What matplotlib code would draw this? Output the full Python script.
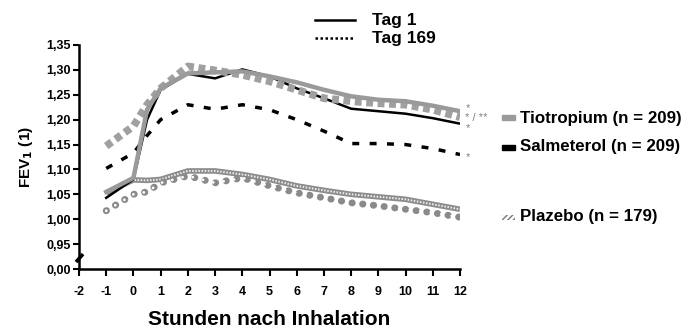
import numpy as np
import matplotlib
matplotlib.use("Agg")
import matplotlib.pyplot as plt
from matplotlib.patches import Rectangle
from matplotlib.lines import Line2D

plt.rcParams['font.family'] = ['Liberation Sans', 'DejaVu Sans']
plt.rcParams['font.weight'] = 'bold'

# data
hours = [-1, 0, 0.5, 1, 2, 3, 4, 5, 6, 7, 8, 9, 10, 11, 12]
tio_tag1 = [1.055, 1.083, 1.22, 1.263, 1.293, 1.295, 1.297, 1.287, 1.275, 1.26, 1.247, 1.24, 1.237, 1.228, 1.217]
salm_tag1 = [1.043, 1.08, 1.20, 1.26, 1.292, 1.283, 1.301, 1.287, 1.263, 1.243, 1.222, 1.217, 1.212, 1.203, 1.192]
tio_tag169 = [1.147, 1.187, 1.23, 1.263, 1.307, 1.299, 1.29, 1.277, 1.26, 1.243, 1.237, 1.233, 1.23, 1.22, 1.205]
salm_tag169 = [1.102, 1.133, 1.168, 1.20, 1.23, 1.221, 1.23, 1.22, 1.20, 1.177, 1.152, 1.152, 1.15, 1.142, 1.13]
plac_tag1 = [1.053, 1.079, 1.078, 1.08, 1.097, 1.097, 1.09, 1.08, 1.067, 1.058, 1.05, 1.045, 1.04, 1.03, 1.02]
plac_tag169 = [1.017, 1.05, 1.055, 1.073, 1.087, 1.073, 1.083, 1.067, 1.053, 1.043, 1.033, 1.027, 1.02, 1.013, 1.004]

x_ticks = list(range(-2, 13))
x_labels = [str(v) for v in x_ticks]
y_ticks = [0.90, 0.95, 1.00, 1.05, 1.10, 1.15, 1.20, 1.25, 1.30, 1.35]
y_labels = ['0,00', '0,95', '1,00', '1,05', '1,10', '1,15', '1,20', '1,25', '1,30', '1,35']

# significance marks at the line ends (stacked block + single mark)
star_block = '*\n* / **\n*'
star_block_y = 1.203
star_single = '*'
star_single_y = 1.124

groups = ['Tiotropium (n = 209)', 'Salmeterol (n = 209)', 'Plazebo (n = 179)']

grey = '#9a9a9a'

fig = plt.figure(figsize=(6.91, 3.36), dpi=100)
ax = fig.add_axes([79/691, 1-269/336, (460-79)/691, (269-45)/336])

# placebo lines (patterned look)
ax.plot(hours, plac_tag1, color='#8c8c8c', lw=4, solid_capstyle='butt')
ax.plot(hours, plac_tag1, color='#eeeeee', lw=1.4, linestyle=(0, (0.8, 0.8)))
ax.plot(hours, plac_tag169, color='#8a8a8a', lw=5, linestyle=(0, (0.05, 1.5)),
        dash_capstyle='round')
ax.plot(hours, plac_tag169, color='white', lw=2, linestyle=(0, (0.05, 3.75)),
        dash_capstyle='round')

# salmeterol
ax.plot(hours, salm_tag169, color='black', lw=2.5, linestyle=(0, (2, 3)))
ax.plot(hours, salm_tag1, color='black', lw=1.8)

# tiotropium
ax.plot(hours, tio_tag169, color='#a0a0a0', lw=5.5, linestyle=(0, (0.9, 0.6)))
ax.plot(hours, tio_tag1, color=grey, lw=3.2)

ax.text(12.2, star_block_y, star_block, fontsize=8, color='#808080', fontweight='normal',
        va='center', ha='left', linespacing=0.95, clip_on=False)
ax.text(12.2, star_single_y, star_single, fontsize=8, color='#808080', fontweight='normal',
        va='center', ha='left', clip_on=False)

ax.set_xlim(-2, 12)
ax.set_ylim(0.90, 1.35)
ax.set_xticks(x_ticks)
ax.set_xticklabels(x_labels, fontsize=9, fontweight='bold')
ax.set_yticks(y_ticks)
ax.set_yticklabels(y_labels, fontsize=9, fontweight='bold')
ax.spines['top'].set_visible(False)
ax.spines['right'].set_visible(False)
ax.spines['left'].set_linewidth(1.8)
ax.spines['bottom'].set_linewidth(1.8)
ax.tick_params(axis='x', direction='out', length=5, width=1.5, pad=7)
ax.tick_params(axis='y', direction='out', length=4, width=1.5, pad=2)

ax.set_xlabel('Stunden nach Inhalation', fontsize=15, fontweight='bold', labelpad=9)
ax.set_ylabel('FEV$_\\mathbf{1}$ (1)', fontsize=11, fontweight='bold', labelpad=8)

# axis break on the y axis
dxp = 14 / 381
ax.plot([-2 - 3*dxp, -2 + 4*dxp], [0.914, 0.930], color='black', lw=2.6,
        clip_on=False, solid_capstyle='butt')

# top legend (Tag 1 / Tag 169)
fig.add_artist(Line2D([315/691, 355/691], [1-20/336, 1-20/336], color='black', lw=1.8))
fig.add_artist(Line2D([315/691, 355/691], [1-38/336, 1-38/336], color='black', lw=1.8,
                      linestyle=(0, (1, 1))))
fig.text(372/691, 1-20/336, 'Tag 1', fontsize=12.5, fontweight='bold', va='center')
fig.text(372/691, 1-38/336, 'Tag 169', fontsize=12.5, fontweight='bold', va='center')

# right legend (groups)
rows_y = [118, 147, 217]
patches = [dict(color=grey), dict(color='black'),
           dict(facecolor='white', edgecolor='#777777', hatch='//////', lw=0)]
for yy, name, kw in zip(rows_y, groups, patches):
    fig.add_artist(Rectangle((502/691, 1-(yy+2.5)/336), 13/691, 5/336,
                             transform=fig.transFigure, **kw))
    fig.text(520/691, 1-yy/336, name, fontsize=12.2, fontweight='bold', va='center')

fig.savefig('out.png', dpi=100)
